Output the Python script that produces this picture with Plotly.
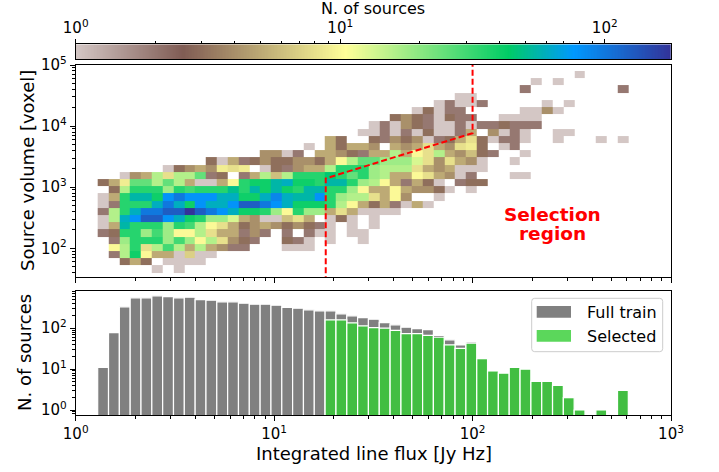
import numpy as np
import plotly.graph_objects as go

W, H = 719, 472
FONT = "DejaVu Sans"


def fx(p):
    return p / W


def fy(p):
    return 1 - p / H


# ---------------- data ----------------
# log-spaced bins (flux in Jy Hz, volume in voxel)
flux_edges = np.logspace(0.1108, 2.7850, 50)
volume_edges = np.logspace(1.602, 4.9015, 29)

# bottom panel histogram (counts per flux bin)
full_train = [11, 78, 332, 552, 552, 617, 594, 552, 573, 501,
              484, 440, 440, 408, 386, 386, 365, 320, 308, 281,
              265, 265, 224, 200, 182, 166, 137, 121, 106, 98,
              92, 67, 52, 39, 46, 18, 9, 8, 11, 10,
              5, 5, 4, 2, 1, 0, 1, 0, 3]
selected = [0] * 21 + [160, 160, 135, 114, 103, 100, 88, 74, 74,
                       67, 60, 39, 32, 43, 18, 9, 8, 11, 10,
                       5, 5, 4, 2, 1, 0, 1, 0, 3]

# 2D histogram: one row per volume bin (bottom -> top), one column per flux bin
counts_2d = [
    [0, 0, 0, 0, 0, 1, 0, 1] + [0] * 41,
    [0, 0, 3, 5, 3, 0, 1, 1, 1, 1] + [0] * 39,
    [0, 2, 16, 40, 10, 5, 5, 1, 7, 1, 1] + [0] * 38,
    [0, 10, 16, 35, 8, 16, 30, 16, 5, 16, 5, 4, 2, 2, 0, 0, 0, 1, 1, 1] + [0] * 29,
    [0, 2, 18, 35, 35, 35, 18, 30, 18, 10, 16, 8, 4, 3, 2, 0, 0, 3, 2, 1,
     0, 1, 0, 0, 1] + [0] * 24,
    [2, 3, 35, 35, 18, 30, 18, 10, 10, 16, 8, 5, 5, 2, 4, 2, 0, 2, 0, 2,
     1, 1, 0, 1, 1] + [0] * 24,
    [1, 5, 55, 35, 35, 35, 18, 35, 30, 16, 10, 8, 5, 3, 4, 5, 4, 3, 4, 3,
     2, 1, 0, 1, 0, 1] + [0] * 23,
    [1, 16, 60, 80, 125, 125, 80, 60, 40, 35, 18, 18, 13, 5, 4, 1, 1, 6, 8, 5,
     0, 1, 3, 1, 0, 1] + [0] * 23,
    [2, 16, 35, 60, 100, 100, 125, 125, 178, 125, 100, 80, 60, 40, 40, 35, 18, 10, 35, 18,
     18, 5, 8, 5, 1, 1, 1, 1] + [0] * 21,
    [1, 2, 35, 35, 35, 60, 100, 60, 40, 80, 60, 60, 80, 125, 125, 100, 80, 60, 40, 40,
     40, 35, 16, 10, 5, 3, 5, 2, 1, 5, 1] + [0] * 18,
    [1, 5, 35, 55, 55, 40, 80, 100, 80, 80, 80, 60, 60, 40, 40, 60, 90, 60, 55, 55,
     80, 35, 18, 16, 16, 8, 5, 10, 4, 0, 0, 1] + [0] * 17,
    [0, 3, 16, 35, 35, 35, 18, 35, 30, 35, 35, 35, 50, 35, 55, 40, 55, 40, 35, 55,
     55, 35, 35, 18, 10, 5, 5, 10, 5, 4, 4, 3, 1, 0, 1] + [0] * 14,
    [3, 5, 9, 25, 25, 16, 25, 16, 5, 1, 1, 5, 10, 35, 40, 40, 55, 60, 40, 40,
     35, 55, 55, 35, 18, 16, 10, 5, 2, 5, 3, 1, 0, 2, 3, 3] + [0] * 13,
    [0, 0, 1, 4, 5, 16, 8, 16, 16, 25, 2, 3, 0, 2, 5, 16, 6, 16, 35, 35,
     35, 45, 35, 25, 35, 18, 16, 5, 5, 10, 8, 5, 4, 1, 2, 0, 0, 0, 1, 1] + [0] * 9,
    [0, 0, 0, 0, 0, 0, 1, 3, 4, 5, 4, 9, 8, 9, 0, 1, 3, 2, 4, 5,
     5, 16, 35, 35, 35, 18, 16, 16, 16, 8, 5, 4, 5, 1, 1, 1] + [0] * 13,
    [0] * 10 + [3, 1, 5, 2, 3, 4, 3, 3, 4, 4, 3, 5, 10, 16, 25, 25, 18, 18, 18, 13,
                8, 4, 8, 5, 4, 1, 0, 0, 1] + [0] * 10,
    [0] * 15 + [4, 4, 1, 2, 0, 5, 5, 4, 3, 2, 5, 5, 16, 5, 10,
                8, 16, 5, 4, 6, 3, 2, 0, 0, 1] + [0] * 9,
    [0] * 19 + [1, 0, 5, 3, 5, 5, 4, 0, 5, 4, 5,
                8, 5, 4, 8, 9, 3, 0, 1, 2] + [0] * 10,
    [0] * 21 + [5, 3, 0, 0, 3, 2, 4, 3, 4, 1, 2, 3, 5, 8, 3, 1, 2, 2, 1,
                0, 0, 1, 0, 0, 0, 1, 0, 1],
    [0] * 24 + [1, 1, 2, 1, 2, 1, 3, 1, 1, 2, 5, 0, 4, 1, 2, 1, 0, 0, 1, 1] + [0] * 5,
    [0] * 25 + [1, 2, 1, 4, 3, 2, 1, 1, 2, 1, 2, 2, 3, 2, 2, 2] + [0] * 8,
    [0] * 27 + [3, 4, 3, 2, 1, 3, 2, 2, 0, 0, 1, 1, 1, 1] + [0] * 8,
    [0] * 29 + [1, 3, 1, 2, 2, 0, 0, 0, 0, 0, 1, 1, 4, 1] + [0] * 6,
    [0] * 31 + [1, 2, 1, 1, 2, 0, 0, 0, 0, 0, 1, 0, 1] + [0] * 5,
    [0] * 33 + [1, 1] + [0] * 14,
    [0] * 39 + [2] + [0] * 8 + [2],
    [0] * 40 + [1, 0, 1] + [0] * 6,
    [0] * 44 + [1] + [0] * 4,
]

count_max = 178
sel_flux = [18.2, 18.2, 100.0, 100.0]
sel_volume = [10.0, 1393.0, 7660.0, 1.0e6]

# truncated terrain_r colormap
colorscale = [
    [0.0, "rgb(212,199,197)"],
    [0.1803, "rgb(128,92,84)"],
    [0.4536, "rgb(255,255,153)"],
    [0.7268, "rgb(0,204,102)"],
    [0.8361, "rgb(0,153,255)"],
    [1.0, "rgb(51,51,153)"],
]

# ---------------- figure ----------------
counts = np.array(counts_2d, dtype=float)
zlog = np.where(counts > 0, np.log10(np.where(counts > 0, counts, 1)), np.nan)
zmax = np.log10(count_max)

fig = go.Figure()
fig.add_trace(go.Heatmap(
    x=flux_edges, y=volume_edges, z=zlog, zmin=0, zmax=zmax,
    colorscale=colorscale, showscale=False, hoverinfo="skip",
    xaxis="x", yaxis="y"))
fig.add_trace(go.Scatter(
    x=sel_flux, y=sel_volume, mode="lines",
    line=dict(color="red", width=2, dash="6px,3px"),
    xaxis="x", yaxis="y", hoverinfo="skip", name="selection"))

lo = flux_edges[:-1]
hi = flux_edges[1:]
centers = (lo + hi) / 2
widths = hi - lo
fig.add_trace(go.Bar(
    x=centers, y=[v if v > 0 else None for v in full_train], width=widths,
    marker=dict(color="rgb(128,128,128)", line=dict(color="white", width=1.2)),
    xaxis="x2", yaxis="y2", name="Full train", hoverinfo="skip"))
fig.add_trace(go.Bar(
    x=centers, y=[v if v > 0 else None for v in selected], width=widths,
    marker=dict(color="rgba(50,205,50,0.8)", line=dict(color="white", width=1.2)),
    xaxis="x2", yaxis="y2", name="Selected", hoverinfo="skip"))

# colour bar drawn as its own axis
cb_edges = np.logspace(0, zmax, 401)
cb_centers = np.sqrt(cb_edges[:-1] * cb_edges[1:])
fig.add_trace(go.Heatmap(
    x=cb_edges, y=[0, 1], z=[np.log10(cb_centers)], zmin=0, zmax=zmax,
    colorscale=colorscale, showscale=False, hoverinfo="skip",
    xaxis="x3", yaxis="y3"))

tickfont = dict(family=FONT, size=15, color="black")


def minor(vals, ln=3):
    return dict(tickmode="array", tickvals=vals, ticks="outside", ticklen=ln,
                tickwidth=1, tickcolor="black", showgrid=False)


base = dict(showline=True, linecolor="black", linewidth=1, mirror=True,
            ticks="outside", ticklen=5, tickwidth=1, tickcolor="black",
            showgrid=False, zeroline=False, tickfont=tickfont, automargin=False)

xminor = [2, 3, 4, 5, 6, 7, 8, 9, 20, 30, 40, 50, 60, 70, 80, 90,
          200, 300, 400, 500, 600, 700, 800, 900]
xdom = [fx(75.7), fx(671)]

fig.update_layout(
    width=W, height=H, margin=dict(l=0, r=0, t=0, b=0, pad=0, autoexpand=False),
    paper_bgcolor="white", plot_bgcolor="white", showlegend=False,
    barmode="overlay", font=dict(family=FONT, color="black"),
    xaxis=dict(base, domain=xdom, type="log", range=[0, 3], anchor="y",
               tickmode="array", tickvals=[1, 10, 100, 1000],
               showticklabels=False, minor=minor(xminor)),
    yaxis=dict(base, domain=[fy(277.3), fy(65)], type="log", range=[1.525, 5],
               anchor="x", tickmode="array",
               tickvals=[100, 1000, 10000, 100000],
               ticktext=["10<sup>2</sup>", "10<sup>3</sup>", "10<sup>4</sup>", "10<sup>5</sup>"],
               minor=minor([40, 50, 60, 70, 80, 90, 200, 300, 400, 500, 600, 700, 800, 900,
                            2000, 3000, 4000, 5000, 6000, 7000, 8000, 9000,
                            20000, 30000, 40000, 50000, 60000, 70000, 80000, 90000])),
    xaxis2=dict(base, domain=xdom, type="log", range=[0, 3], anchor="y2",
                tickmode="array", tickvals=[1, 10, 100, 1000],
                ticktext=["10<sup>0</sup>", "10<sup>1</sup>", "10<sup>2</sup>", "10<sup>3</sup>"],
                minor=minor(xminor)),
    yaxis2=dict(base, domain=[fy(415), fy(291)], type="log", range=[-0.122, 2.909],
                anchor="x2", tickmode="array", tickvals=[1, 10, 100],
                ticktext=["10<sup>0</sup>", "10<sup>1</sup>", "10<sup>2</sup>"],
                minor=minor([0.8, 0.9, 2, 3, 4, 5, 6, 7, 8, 9, 20, 30, 40, 50, 60, 70, 80, 90,
                             200, 300, 400, 500, 600, 700, 800])),
    xaxis3=dict(base, domain=xdom, type="log", range=[0, zmax], anchor="y3",
                side="top", ticklen=4.5, tickmode="array", tickvals=[1, 10, 100],
                ticktext=["10<sup>0</sup>", "10<sup>1</sup>", "10<sup>2</sup>"],
                minor=minor([2, 3, 4, 5, 6, 7, 8, 9, 20, 30, 40, 50, 60, 70, 80, 90], 2.5)),
    yaxis3=dict(domain=[fy(59.3), fy(44.3)], anchor="x3", range=[0, 1],
                showline=True, linecolor="black", linewidth=1, mirror=True,
                showticklabels=False, ticks="", showgrid=False, zeroline=False,
                automargin=False),
)

ann = []


def text(x, y, s, size, **kw):
    d = dict(x=fx(x), y=fy(y), xref="paper", yref="paper", text=s, showarrow=False,
             font=dict(family=FONT, size=size, color=kw.pop("color", "black")),
             xanchor=kw.pop("xanchor", "center"), yanchor="middle")
    d.update(kw)
    ann.append(d)


text(373, 8.5, "N. of sources", 16)
text(27, 171, "Source volume [voxel]", 18, textangle=-90)
text(24, 353, "N. of sources", 18, textangle=-90)
text(373.5, 453, "Integrated line flux [Jy Hz]", 18)
text(552, 214, "<b>Selection</b>", 18.5, color="red")
text(552, 233, "<b>region</b>", 18.5, color="red")
text(585, 312, "Full train", 16, xanchor="left")
text(585, 336, "Selected", 16, xanchor="left")
fig.update_layout(annotations=ann)


def rounded_rect(x0, y0, x1, y1, r):
    pts = [f"M {fx(x0 + r)},{fy(y0)}", f"L {fx(x1 - r)},{fy(y0)}",
           f"Q {fx(x1)},{fy(y0)} {fx(x1)},{fy(y0 + r)}", f"L {fx(x1)},{fy(y1 - r)}",
           f"Q {fx(x1)},{fy(y1)} {fx(x1 - r)},{fy(y1)}", f"L {fx(x0 + r)},{fy(y1)}",
           f"Q {fx(x0)},{fy(y1)} {fx(x0)},{fy(y1 - r)}", f"L {fx(x0)},{fy(y0 + r)}",
           f"Q {fx(x0)},{fy(y0)} {fx(x0 + r)},{fy(y0)}", "Z"]
    return " ".join(pts)


shapes = [
    dict(type="path", path=rounded_rect(531.7, 298.3, 662.7, 351.7, 3),
         xref="paper", yref="paper", fillcolor="rgba(255,255,255,0.8)",
         line=dict(color="rgb(204,204,204)", width=1), layer="above"),
    dict(type="rect", x0=fx(536.7), x1=fx(571), y0=fy(317.7), y1=fy(306),
         xref="paper", yref="paper", fillcolor="rgb(128,128,128)",
         line=dict(width=0), layer="above"),
    dict(type="rect", x0=fx(536.7), x1=fx(571), y0=fy(341.7), y1=fy(330),
         xref="paper", yref="paper", fillcolor="rgba(50,205,50,0.8)",
         line=dict(width=0), layer="above"),
]
fig.update_layout(shapes=shapes)

fig.write_html("out.html")
